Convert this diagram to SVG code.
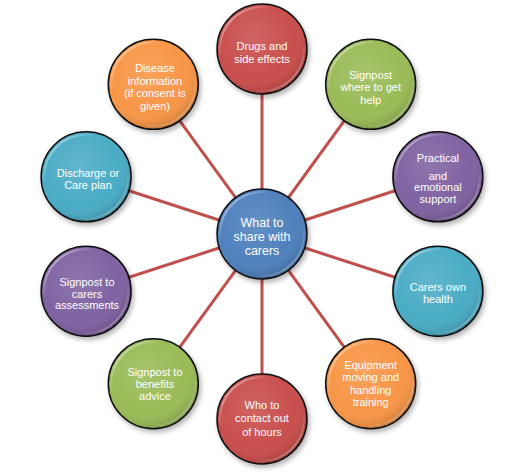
<svg xmlns="http://www.w3.org/2000/svg" width="521" height="476" viewBox="0 0 521 476">
<defs>
<radialGradient id="shade" cx="0.42" cy="0.38" r="0.62">
<stop offset="0" stop-color="#fff" stop-opacity="0.12"/>
<stop offset="0.7" stop-color="#fff" stop-opacity="0"/>
<stop offset="0.93" stop-color="#000" stop-opacity="0.08"/>
<stop offset="1" stop-color="#000" stop-opacity="0.2"/>
</radialGradient>
<linearGradient id="rim" x1="0" y1="0" x2="1" y2="1">
<stop offset="0" stop-color="#fff" stop-opacity="0.75"/>
<stop offset="0.3" stop-color="#fff" stop-opacity="0"/>
<stop offset="0.7" stop-color="#fff" stop-opacity="0"/>
<stop offset="1" stop-color="#fff" stop-opacity="0.55"/>
</linearGradient>
<filter id="sh" x="-20%" y="-20%" width="150%" height="150%">
<feGaussianBlur in="SourceAlpha" stdDeviation="2.5"/>
<feOffset dx="2" dy="3" result="b"/>
<feComponentTransfer><feFuncA type="linear" slope="0.3"/></feComponentTransfer>
<feMerge><feMergeNode/><feMergeNode in="SourceGraphic"/></feMerge>
</filter>
</defs>
<style>
.base{stroke:#111;stroke-width:1.5;filter:url(#sh)}
.shade{fill:url(#shade)}
.rim{fill:none;stroke:url(#rim);stroke-width:2}
.red{fill:#c9504e}.green{fill:#9bbb59}.purple{fill:#8064a2}.aqua{fill:#4bacc6}.orange{fill:#f79646}.blue{fill:#4f81bd}
text{font-family:"Liberation Sans",Arial,sans-serif;font-size:11px;fill:#fff;text-anchor:middle}
.big{font-size:12.5px}
.conn line{stroke:#c0504d;stroke-width:3}
</style>
<rect width="521" height="476" fill="#fff"/>
<g class="conn">
<line x1="262" y1="234" x2="262" y2="49"/>
<line x1="262" y1="234" x2="370.7" y2="84.3"/>
<line x1="262" y1="234" x2="437.9" y2="176.8"/>
<line x1="262" y1="234" x2="437.9" y2="291.2"/>
<line x1="262" y1="234" x2="370.7" y2="383.7"/>
<line x1="262" y1="234" x2="262" y2="419"/>
<line x1="262" y1="234" x2="153.3" y2="383.7"/>
<line x1="262" y1="234" x2="86.1" y2="291.2"/>
<line x1="262" y1="234" x2="86.1" y2="176.8"/>
<line x1="262" y1="234" x2="153.3" y2="84.3"/>
</g>
<g id="drugs">
<circle class="base red" cx="262" cy="49" r="45"/><circle class="shade" cx="262" cy="49" r="45"/><circle class="rim" cx="262" cy="49" r="42"/>
<text x="262" y="50">Drugs and</text><text x="262" y="63">side effects</text>
</g>
<g id="signpost-help">
<circle class="base green" cx="370.7" cy="84.3" r="45"/><circle class="shade" cx="370.7" cy="84.3" r="45"/><circle class="rim" cx="370.7" cy="84.3" r="42"/>
<text x="370.7" y="79">Signpost</text><text x="370.7" y="91">where to get</text><text x="370.7" y="104">help</text>
</g>
<g id="practical">
<circle class="base purple" cx="437.9" cy="176.8" r="45"/><circle class="shade" cx="437.9" cy="176.8" r="45"/><circle class="rim" cx="437.9" cy="176.8" r="42"/>
<text x="437.9" y="162">Practical</text><text x="437.9" y="180">and</text><text x="437.9" y="191">emotional</text><text x="437.9" y="203">support</text>
</g>
<g id="carers-health">
<circle class="base aqua" cx="437.9" cy="291.2" r="45"/><circle class="shade" cx="437.9" cy="291.2" r="45"/><circle class="rim" cx="437.9" cy="291.2" r="42"/>
<text x="437.9" y="291">Carers own</text><text x="437.9" y="303">health</text>
</g>
<g id="equipment">
<circle class="base orange" cx="370.7" cy="383.7" r="45"/><circle class="shade" cx="370.7" cy="383.7" r="45"/><circle class="rim" cx="370.7" cy="383.7" r="42"/>
<text x="370.7" y="369">Equipment</text><text x="370.7" y="381">moving and</text><text x="370.7" y="394">handling</text><text x="370.7" y="406">training</text>
</g>
<g id="out-of-hours">
<circle class="base red" cx="262" cy="419" r="45"/><circle class="shade" cx="262" cy="419" r="45"/><circle class="rim" cx="262" cy="419" r="42"/>
<text x="262" y="409">Who to</text><text x="262" y="422">contact out</text><text x="262" y="436">of hours</text>
</g>
<g id="benefits">
<circle class="base green" cx="153.3" cy="383.7" r="45"/><circle class="shade" cx="153.3" cy="383.7" r="45"/><circle class="rim" cx="153.3" cy="383.7" r="42"/>
<text x="155" y="376">Signpost to</text><text x="155" y="388">benefits</text><text x="155" y="400">advice</text>
</g>
<g id="assessments">
<circle class="base purple" cx="86.1" cy="291.2" r="45"/><circle class="shade" cx="86.1" cy="291.2" r="45"/><circle class="rim" cx="86.1" cy="291.2" r="42"/>
<text x="87" y="286">Signpost to</text><text x="87" y="298">carers</text><text x="87" y="309">assessments</text>
</g>
<g id="discharge">
<circle class="base aqua" cx="86.1" cy="176.8" r="45"/><circle class="shade" cx="86.1" cy="176.8" r="45"/><circle class="rim" cx="86.1" cy="176.8" r="42"/>
<text x="88" y="177">Discharge or</text><text x="88" y="189">Care plan</text>
</g>
<g id="disease">
<circle class="base orange" cx="153.3" cy="84.3" r="45"/><circle class="shade" cx="153.3" cy="84.3" r="45"/><circle class="rim" cx="153.3" cy="84.3" r="42"/>
<text x="155" y="72">Disease</text><text x="155" y="85">information</text><text x="155" y="97">(if consent is</text><text x="155" y="110">given)</text>
</g>
<g id="center">
<circle class="base blue" cx="262" cy="234" r="45"/><circle class="shade" cx="262" cy="234" r="45"/><circle class="rim" cx="262" cy="234" r="42"/>
<text class="big" x="262" y="227">What to</text><text class="big" x="262" y="241">share with</text><text class="big" x="262" y="255">carers</text>
</g>
</svg>
